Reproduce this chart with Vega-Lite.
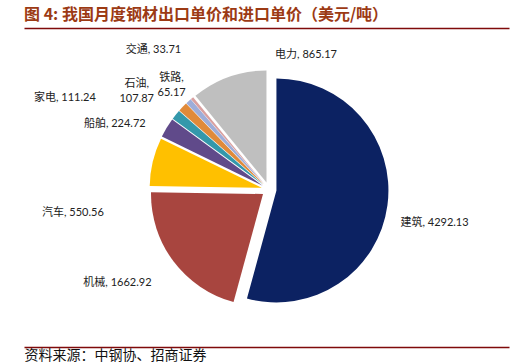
{
  "$schema": "https://vega.github.io/schema/vega-lite/v6.json",
  "width": 512,
  "height": 364,
  "autosize": {"type": "fit", "contains": "padding"},
  "padding": {"left": 24, "right": 0, "top": 7, "bottom": 2},
  "background": "white",
  "config": {"view": {"stroke": null}},
  "title": {
    "text": "图 4:   我国月度钢材出口单价和进口单价（美元/吨）",
    "anchor": "start",
    "font": "Noto Sans CJK SC",
    "fontSize": 16,
    "fontWeight": "bold",
    "color": "#9C3A14",
    "offset": 5
  },
  "data": {
    "values": [
      {"o": 1, "cat": "建筑", "v": 4292.13, "label": "建筑, 4292.13"},
      {"o": 2, "cat": "机械", "v": 1662.92, "label": "机械, 1662.92"},
      {"o": 3, "cat": "汽车", "v": 550.56, "label": "汽车, 550.56"},
      {"o": 4, "cat": "船舶", "v": 224.72, "label": "船舶, 224.72"},
      {"o": 5, "cat": "家电", "v": 111.24, "label": "家电, 111.24"},
      {"o": 6, "cat": "石油", "v": 107.87, "label": "石油,\n107.87"},
      {"o": 7, "cat": "铁路", "v": 65.17, "label": "铁路,\n65.17"},
      {"o": 8, "cat": "交通", "v": 33.71, "label": "交通, 33.71"},
      {"o": 9, "cat": "电力", "v": 865.17, "label": "电力, 865.17"}
    ]
  },
  "layer": [
    {
      "mark": {
        "type": "arc",
        "radius": 112,
        "xOffset": {"expr": "2.5 + 7.5*sin((scale('theta', datum.v_start) + scale('theta', datum.v_end))/2)"},
        "yOffset": {"expr": "2 - 7.5*cos((scale('theta', datum.v_start) + scale('theta', datum.v_end))/2)"}
      },
      "encoding": {
        "theta": {"field": "v", "type": "quantitative", "stack": true},
        "order": {"field": "o", "type": "quantitative"},
        "color": {
          "field": "cat",
          "type": "nominal",
          "legend": null,
          "scale": {
            "domain": ["建筑", "机械", "汽车", "船舶", "家电", "石油", "铁路", "交通", "电力"],
            "range": ["#0C2262", "#A8453F", "#FFC000", "#604A8A", "#3498AB", "#E08A3A", "#9EADD9", "#D9A0A0", "#BFBFBF"]
          }
        }
      }
    },
    {
      "mark": {
        "type": "text",
        "radius": 120,
        "font": "Lato, Noto Sans CJK SC",
        "fontSize": 11,
        "color": "#222222",
        "lineBreak": "\n",
        "lineHeight": 15,
        "baseline": "middle",
        "align": {"expr": "({'建筑':'left','机械':'right','汽车':'right','船舶':'right','家电':'right','石油':'center','铁路':'center','交通':'right','电力':'left'})[datum.cat]"},
        "dx": {"expr": "({'建筑':15,'机械':-19,'汽车':-46,'船舶':-18,'家电':-77,'石油':-43,'铁路':-14,'交通':-8,'电力':49})[datum.cat]"},
        "dy": {"expr": "({'建筑':20,'机械':23,'汽车':53,'船舶':-2,'家电':-14,'石油':-21,'铁路':-21,'交通':-46,'电力':-20})[datum.cat]"}
      },
      "encoding": {
        "theta": {"field": "v", "type": "quantitative", "stack": true},
        "order": {"field": "o", "type": "quantitative"},
        "text": {"field": "label", "type": "nominal"}
      }
    },
    {
      "mark": {"type": "point", "opacity": 0},
      "encoding": {
        "x": {
          "field": "v",
          "type": "quantitative",
          "axis": {"orient": "top", "domainColor": "#7F0A0A", "domainWidth": 1.5, "ticks": false, "labels": false, "grid": false, "title": null}
        }
      }
    },
    {
      "mark": {"type": "point", "opacity": 0},
      "encoding": {
        "x": {
          "field": "o",
          "type": "quantitative",
          "axis": {"orient": "bottom", "domainColor": "#7F0A0A", "domainWidth": 1.5, "ticks": false, "labels": false, "grid": false,
            "title": "资料来源：中钢协、招商证券", "titleAnchor": "start", "titleAlign": "left", "titleFont": "Noto Sans CJK SC", "titleFontSize": 14, "titleFontWeight": "normal", "titleColor": "#111111", "titlePadding": 1}
        }
      }
    }
  ],
  "resolve": {"scale": {"x": "independent"}, "axis": {"x": "independent"}}
}
